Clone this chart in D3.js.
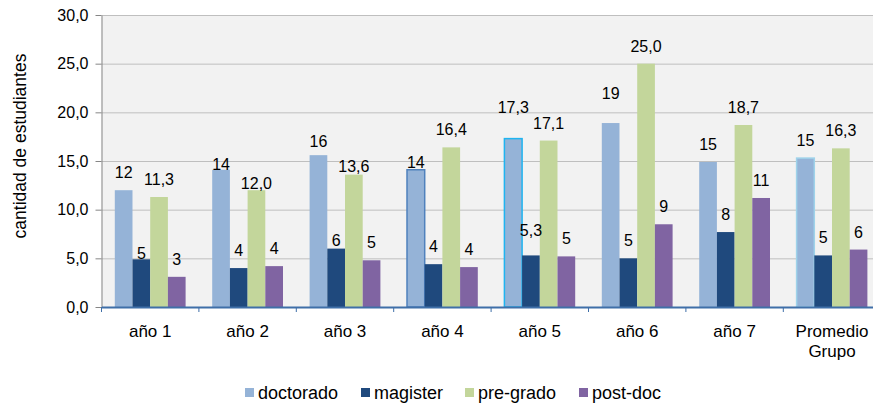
<!DOCTYPE html>
<html lang="es">
<head>
<meta charset="UTF-8">
<title>cantidad de estudiantes</title>
<script src="https://d3js.org/d3.v7.min.js"></script>
<style>
  body { margin: 0; background: #fff; }
  svg { display: block; font-family: "Liberation Sans", Arial, sans-serif; }
  .grid line { stroke: #bfbfbf; stroke-width: 1px; }
  .grid path { display: none; }
  .axis--y path, .axis--y line { stroke: #868686; }
  .axis--x path, .axis--x line { stroke: #3f6fa8; }
  .axis text { fill: #000; }
  .lbl { font-size: 16px; fill: #000; text-anchor: middle; }
</style>
</head>
<body>
<script>

// categories and series
var years = ["año 1", "año 2", "año 3", "año 4", "año 5", "año 6", "año 7", "Promedio Grupo"];
var seriesNames = ["doctorado", "magister", "pre-grado", "post-doc"];

var doctorado = [12.0, 14.1, 15.6, 14.1, 17.3, 18.9, 14.9, 15.3];
var magister  = [4.9, 4.0, 6.0, 4.4, 5.3, 5.0, 7.7, 5.3];
var pregrado  = [11.3, 12.0, 13.6, 16.4, 17.1, 25.0, 18.7, 16.3];
var postdoc   = [3.1, 4.2, 4.8, 4.1, 5.2, 8.5, 11.2, 5.9];

// data labels as printed on the chart
var doctoradoLbl = ["12", "14", "16", "14", "17,3", "19", "15", "15"];
var magisterLbl  = ["5", "4", "6", "4", "5,3", "5", "8", "5"];
var pregradoLbl  = ["11,3", "12,0", "13,6", "16,4", "17,1", "25,0", "18,7", "16,3"];
var postdocLbl   = ["3", "4", "5", "4", "5", "9", "11", "6"];

var yTicks = [0, 5, 10, 15, 20, 25, 30];

var values = [doctorado, magister, pregrado, postdoc];
var labels = [doctoradoLbl, magisterLbl, pregradoLbl, postdocLbl];
var colors = ["#95b3d7", "#1f497d", "#c3d69b", "#8064a2"];

// a few labels were dragged by hand in the original; extra lift (px)
var labelLift = {"0|1": -12, "1|0": -12, "2|1": -11, "0|2": -4, "1|2": -9, "2|2": -9,
                 "0|3": -10, "0|4": 14, "1|4": 7, "0|5": 12};
// odd outlines on some doctorado bars
var barStroke = {"0|3": "#4f81bd", "0|4": "#1fb4f0", "0|7": "#9fd3ea"};

var W = 873, H = 404;
var margin = {top: 15, left: 101.5, bottom: 97};
var catW = 97.4;

var svg = d3.select("body").append("svg")
    .attr("width", W)
    .attr("height", H);

var x = d3.scaleBand()
    .domain(years)
    .range([margin.left, margin.left + catW * years.length]);

var xs = d3.scaleBand()
    .domain(d3.range(seriesNames.length))
    .range([13.3, catW - 13.3]);

var y = d3.scaleLinear()
    .domain([0, 30])
    .range([H - margin.bottom, margin.top]);

// plot background
svg.append("rect")
    .attr("x", margin.left)
    .attr("y", y(30))
    .attr("width", W - margin.left)
    .attr("height", y(0) - y(30))
    .attr("fill", "#f2f2f2");

svg.append("g")
    .attr("class", "grid")
    .attr("transform", "translate(" + margin.left + ",0)")
    .call(d3.axisRight(y).tickValues(yTicks.slice(1)).tickSize(W - margin.left).tickFormat(""));

// bars
var groups = svg.selectAll(".year")
    .data(years)
    .enter().append("g")
    .attr("class", "year")
    .attr("transform", function(d) { return "translate(" + x(d) + ",0)"; });

groups.selectAll("rect")
    .data(function(d, i) { return values.map(function(v, s) { return {s: s, c: i, v: v[i]}; }); })
    .enter().append("rect")
    .attr("x", function(d) { return xs(d.s); })
    .attr("y", function(d) { return y(d.v); })
    .attr("width", xs.bandwidth())
    .attr("height", function(d) { return y(0) - y(d.v); })
    .attr("fill", function(d) { return colors[d.s]; })
    .attr("stroke", function(d) { return barStroke[d.s + "|" + d.c] || "none"; })
    .attr("stroke-width", 1.5);

groups.selectAll("text")
    .data(function(d, i) { return values.map(function(v, s) { return {s: s, c: i, v: v[i]}; }); })
    .enter().append("text")
    .attr("class", "lbl")
    .attr("x", function(d) { return xs(d.s) + xs.bandwidth() / 2; })
    .attr("y", function(d) { return y(d.v) - 12 - (labelLift[d.s + "|" + d.c] || 0); })
    .text(function(d) { return labels[d.s][d.c]; });

// axes
var yAxis = svg.append("g")
    .attr("class", "axis axis--y")
    .attr("transform", "translate(" + margin.left + ",0)")
    .call(d3.axisLeft(y).tickValues(yTicks).tickSize(6).tickSizeOuter(0)
          .tickFormat(function(d) { return d3.format(".1f")(d).replace(".", ","); }));
yAxis.selectAll("text").style("font-size", "16px").attr("x", -13);

var xAxis = svg.append("g")
    .attr("class", "axis axis--x")
    .attr("transform", "translate(0," + y(0) + ")")
    .call(d3.axisBottom(x).tickSize(0).tickFormat(""));
xAxis.select("path").attr("stroke-width", 2);

// category boundary ticks
xAxis.selectAll(".sep")
    .data(years)
    .enter().append("line")
    .attr("x1", function(d) { return x(d); })
    .attr("x2", function(d) { return x(d); })
    .attr("y1", 0)
    .attr("y2", 5)
    .attr("stroke", "#3f6fa8");

// category labels (Promedio Grupo wraps)
svg.selectAll(".xlbl")
    .data(years)
    .enter().append("text")
    .attr("class", "xlbl")
    .attr("text-anchor", "middle")
    .style("font-size", "17px")
    .attr("y", y(0) + 30)
    .each(function(d) {
      var t = d3.select(this), cx = x(d) + x.bandwidth() / 2;
      d.indexOf("Promedio") === 0
        ? d.split(" ").forEach(function(w, k) {
            t.append("tspan").attr("x", cx).attr("dy", k ? 20 : 0).text(w);
          })
        : t.attr("x", cx).text(d);
    });

// y title
svg.append("text")
    .attr("transform", "rotate(-90)")
    .attr("x", -146)
    .attr("y", 26)
    .style("text-anchor", "middle")
    .style("font-size", "17.5px")
    .text("cantidad de estudiantes");

// legend
var legendX = [245, 361, 465, 579];
var legend = svg.selectAll(".legend")
    .data(seriesNames)
    .enter().append("g")
    .attr("class", "legend")
    .attr("transform", function(d, i) { return "translate(" + legendX[i] + ",388)"; });

legend.append("rect")
    .attr("width", 9)
    .attr("height", 9)
    .attr("fill", function(d, i) { return colors[i]; });

legend.append("text")
    .attr("x", 13)
    .attr("y", 11)
    .style("font-size", "18px")
    .text(function(d) { return d; });

</script>
</body>
</html>
